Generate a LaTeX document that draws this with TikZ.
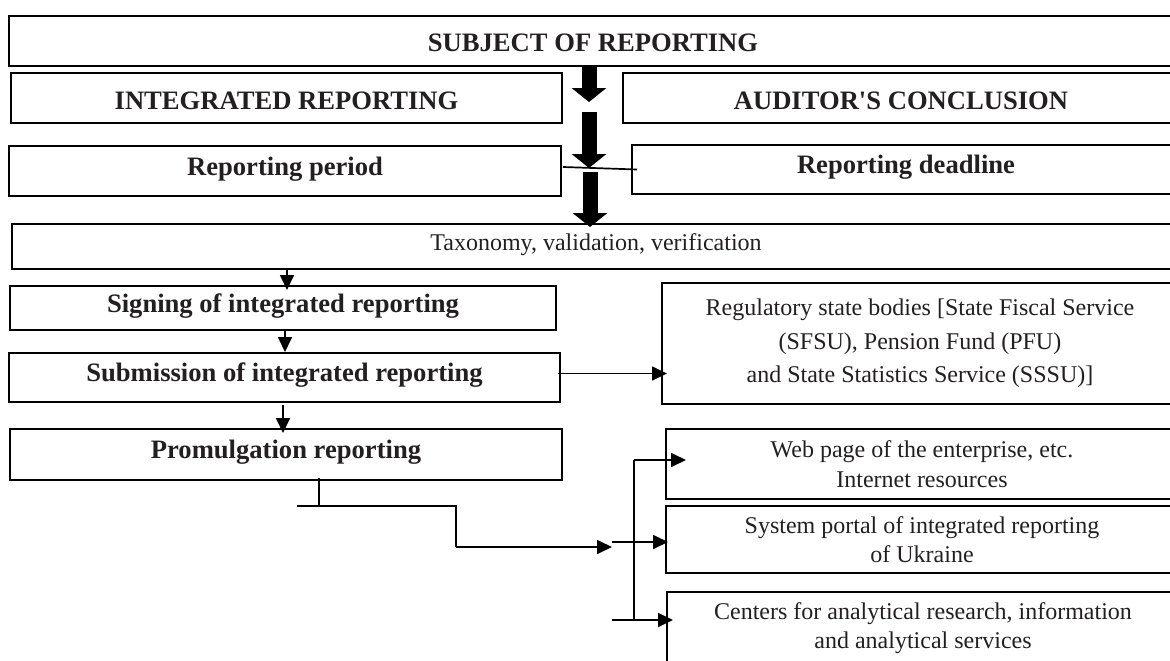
\documentclass[tikz,border=0pt]{standalone}
\usepackage{fontspec}
\setmainfont{Liberation Serif}
\newfontfamily\plainserif{Liberation Serif}[Ligatures=ResetAll]
\usetikzlibrary{arrows.meta,calc}
\definecolor{ink}{RGB}{35,31,32}
\begin{document}
\begin{tikzpicture}[x=1pt,y=-1pt,
  box/.style={draw=black,line width=2pt,inner sep=0pt,outer sep=0pt,anchor=north west,text=ink},
  bcaps/.style={box,font=\fontsize{26.6}{31}\selectfont\bfseries,text height=22pt,text depth=0pt},
  blow/.style={box,font=\fontsize{26.6}{31}\selectfont\bfseries,text height=18pt,text depth=10pt},
  rone/.style={box,font=\fontsize{24}{29.5}\selectfont,text height=17pt,text depth=10pt},
  rmulti/.style={box,font=\fontsize{24}{29.5}\selectfont,align=center},
  arr/.style={line width=1.7pt,-{Triangle[length=15pt,width=14pt]}},
  ln/.style={line width=1.7pt},
  bigarr/.style={line width=15pt,-{Triangle[length=14pt,width=34pt]}}]
\useasboundingbox (0,0) rectangle (1170,661);
\clip (0,0) rectangle (1170,661);

% boxes
\node[bcaps,minimum width=1168pt,minimum height=50pt] (subj) at (9,16) {SUBJECT OF REPORTING};
\node[bcaps,minimum width=551pt,minimum height=50pt] (integ) at (11,73) {INTEGRATED REPORTING};
\node[bcaps,minimum width=556pt,minimum height=50pt] (aud) at (623,73) {AUDITOR{\plainserif\bfseries\char"27}S CONCLUSION};
\node[blow,minimum width=552pt,minimum height=50pt] (period) at (9,146) {Reporting period};
\node[blow,minimum width=548pt,minimum height=49pt] (dead) at (632,145) {Reporting deadline};
\node[rone,minimum width=1168pt,minimum height=45pt] (tax) at (12,224) {Taxonomy, validation, verification};
\node[blow,minimum width=546pt,minimum height=44pt] (sign) at (10,286) {Signing of integrated reporting};
\node[blow,minimum width=551pt,minimum height=49pt] (subm) at (9,353) {Submission of integrated reporting};
\node[blow,minimum width=552pt,minimum height=51pt] (prom) at (10,429) {Promulgation reporting};
\node[rmulti,font=\fontsize{24}{33.5}\selectfont,minimum width=516pt,minimum height=121pt] (reg) at (662,283)
  {Regulatory state bodies [State Fiscal Service\\(SFSU), Pension Fund (PFU)\\and State Statistics Service (SSSU)]};
\node[rmulti,minimum width=512pt,minimum height=70pt] (web) at (666,429) {Web page of the enterprise, etc.\\Internet resources};
\node[rmulti,minimum width=512pt,minimum height=67pt] (portal) at (666,506) {System portal of integrated reporting\\of Ukraine};
\node[rmulti,minimum width=512pt,minimum height=72pt] (cent) at (667,592) {Centers for analytical research, information\\and analytical services};

% heavy arrows
\coordinate (b1) at (589,102);
\coordinate (b2s) at (589,112);
\coordinate (b2e) at (589,168);
\coordinate (b3s) at (590,172);
\draw[bigarr] (subj.south -| b1) -- (b1);
\draw[bigarr] (b2s) -- (b2e);
\draw[bigarr] (b3s) -- ([yshift=-3pt]tax.north -| b3s);
\draw[line width=1.7pt] ([yshift=4pt,xshift=2pt]period.east) -- ([xshift=5pt]dead.west);

% thin arrows on the left column
\coordinate (ax1) at (287,0);
\coordinate (ax2) at (285,0);
\coordinate (ax3) at (283,0);
\draw[arr] (tax.south -| ax1) -- ([yshift=-4pt]sign.north -| ax1);
\draw[arr] (sign.south -| ax2) -- ([yshift=1pt]subm.north -| ax2);
\draw[arr] ([yshift=-3pt]subm.south -| ax3) -- ([yshift=-4pt]prom.north -| ax3);
\draw[arr] ([yshift=4pt,xshift=-2pt]subm.east) -- ([yshift=4pt,xshift=5pt]subm.east -| reg.west);

% distribution of promulgation
\coordinate (s1) at (319,0);
\coordinate (h0) at (297,506);
\coordinate (h1) at (456,506);
\coordinate (h2) at (456,547);
\coordinate (h3) at (612,547);
\draw[ln] ([yshift=2pt]prom.south -| s1) -- (h0 -| s1);
\draw[ln] (h0) -- (h1) -- (h2);
\draw[arr] (h2) -- (h3);
\coordinate (vt) at (634,460);
\coordinate (vb) at (634,620);
\coordinate (m0) at (612,542);
\coordinate (l0) at (612,620);
\draw[ln] (vt) -- (vb);
\draw[arr] (vt) -- ([xshift=20pt]vt -| web.west);
\draw[arr] (m0) -- ([xshift=2pt]m0 -| portal.west);
\draw[arr] (l0) -- ([xshift=6pt]l0 -| cent.west);
\end{tikzpicture}
\end{document}
